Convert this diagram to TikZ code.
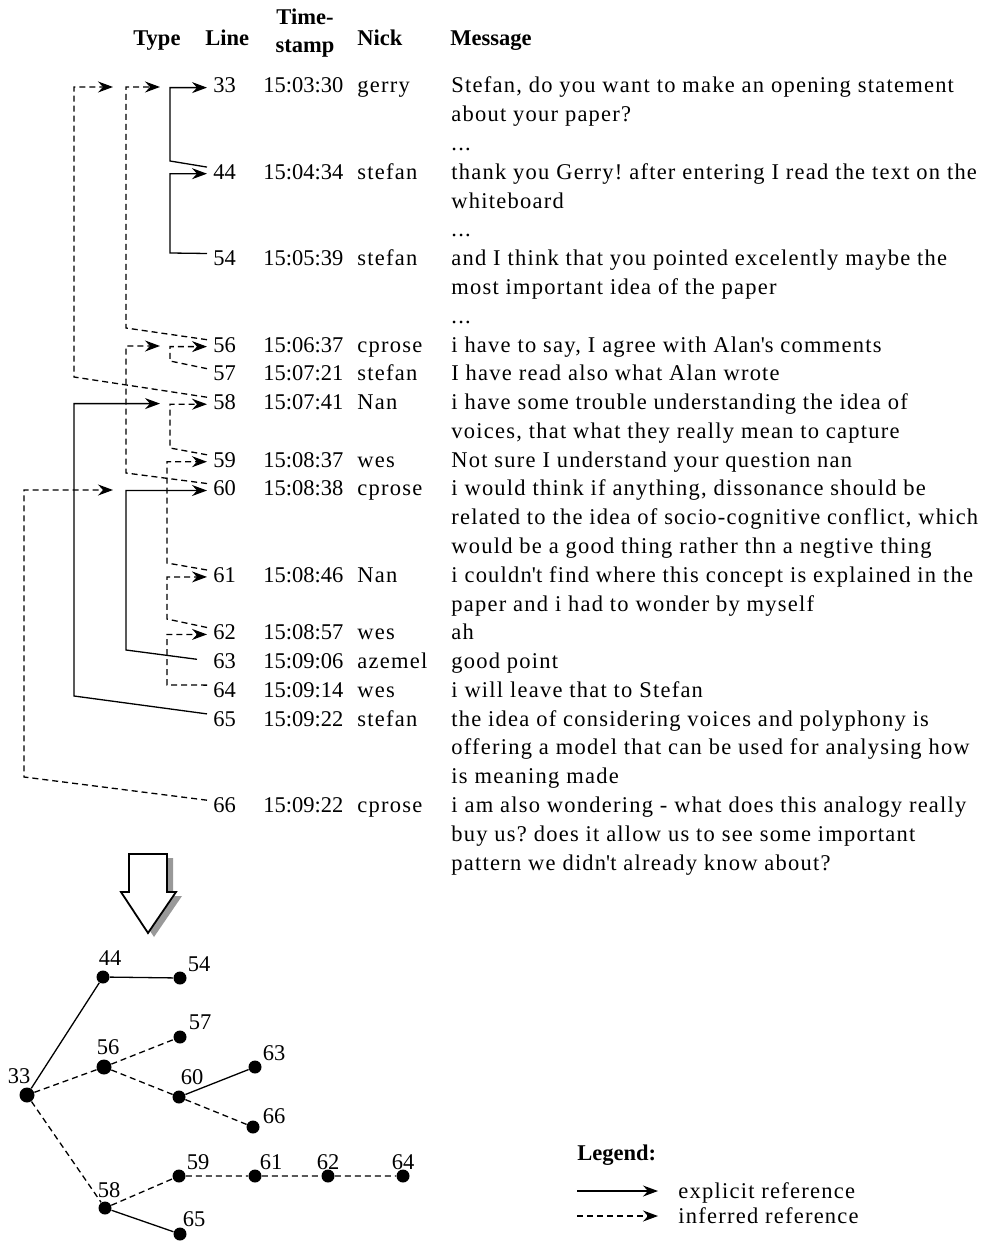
\documentclass[tikz,border=0pt]{standalone}
\usepackage{fontspec}
\setmainfont{Liberation Serif}
\newfontfamily\spaced{Liberation Serif}[LetterSpace=5.5]
\usetikzlibrary{arrows.meta,calc}
\frenchspacing
% first line of a block sits on the node's baseline
\newcommand{\msglines}[1]{\begin{tabular}[t]{@{}l@{}}#1\end{tabular}}

\begin{document}
\begin{tikzpicture}[x=0.5pt,y=-0.5pt]
  \tikzset{
    every node/.style={font=\fontsize{11.25}{14.39}\selectfont},
    head/.style={anchor=base west, inner sep=0pt, font=\fontsize{11.25}{14}\selectfont\bfseries},
    num/.style={anchor=base west, inner xsep=3pt, inner ysep=0pt},
    stamp/.style={anchor=base west, inner sep=0pt},
    nick/.style={anchor=base west, inner sep=0pt, font=\fontsize{11.25}{14.39}\selectfont\spaced},
    msg/.style={anchor=base west, inner sep=0pt, font=\fontsize{11.25}{14.39}\selectfont\spaced\frenchspacing},
    expl/.style={draw, line width=0.65pt, -{Stealth[length=7.5pt, width=5.5pt, inset=2.5pt]}},
    infer/.style={expl, dash pattern=on 3pt off 2pt},
    link/.style={draw, line width=0.65pt},
    dlink/.style={link, dash pattern=on 3pt off 2pt},
    dot/.style={circle, fill, inner sep=0pt, minimum size=6.5pt},
    bigdot/.style={dot, minimum size=7.5pt},
    lab/.style={inner sep=0pt}
  }
  \useasboundingbox (0,0) rectangle (983,1241);

  % header
  \node [head] (htype) at (133,46) {Type};
  \node [head] (hline) at (205,46) {Line};
  \node [head, anchor=base] (htime) at (305,25) {\begin{tabular}[t]{@{}c@{}}Time-\\stamp\end{tabular}};
  \node [head] (hnick) at (357,46) {Nick};
  \node [head] (hmsg) at (450,46) {Message};

  % chat lines
  \node [num] (n33) at (207,93) {33};
  \node [stamp] (s33) at (263,93) {15:03:30};
  \node [nick] (k33) at (357,93) {gerry};
  \node [msg] (m33) at (451,93) {\msglines{Stefan, do you want to make an opening statement\\about your paper?\\...}};

  \node [num] (n44) at (207,179.3) {44};
  \node [stamp] (s44) at (263,179.3) {15:04:34};
  \node [nick] (k44) at (357,179.3) {stefan};
  \node [msg] (m44) at (451,179.3) {\msglines{thank you Gerry! after entering I read the text on the\\whiteboard\\...}};

  \node [num] (n54) at (207,265.7) {54};
  \node [stamp] (s54) at (263,265.7) {15:05:39};
  \node [nick] (k54) at (357,265.7) {stefan};
  \node [msg] (m54) at (451,265.7) {\msglines{and I think that you pointed excelently maybe the\\most important idea of the paper\\...}};

  \node [num] (n56) at (207,352) {56};
  \node [stamp] (s56) at (263,352) {15:06:37};
  \node [nick] (k56) at (357,352) {cprose};
  \node [msg] (m56) at (451,352) {i have to say, I agree with Alan\textquotesingle s comments};

  \node [num] (n57) at (207,380.8) {57};
  \node [stamp] (s57) at (263,380.8) {15:07:21};
  \node [nick] (k57) at (357,380.8) {stefan};
  \node [msg] (m57) at (451,380.8) {I have read also what Alan wrote};

  \node [num] (n58) at (207,409.6) {58};
  \node [stamp] (s58) at (263,409.6) {15:07:41};
  \node [nick] (k58) at (357,409.6) {Nan};
  \node [msg] (m58) at (451,409.6) {\msglines{i have some trouble understanding the idea of\\voices, that what they really mean to capture}};

  \node [num] (n59) at (207,467.1) {59};
  \node [stamp] (s59) at (263,467.1) {15:08:37};
  \node [nick] (k59) at (357,467.1) {wes};
  \node [msg] (m59) at (451,467.1) {Not sure I understand your question nan};

  \node [num] (n60) at (207,495.9) {60};
  \node [stamp] (s60) at (263,495.9) {15:08:38};
  \node [nick] (k60) at (357,495.9) {cprose};
  \node [msg] (m60) at (451,495.9) {\msglines{i would think if anything, dissonance should be\\related to the idea of socio-cognitive conflict, which\\would be a good thing rather thn a negtive thing}};

  \node [num] (n61) at (207,582.3) {61};
  \node [stamp] (s61) at (263,582.3) {15:08:46};
  \node [nick] (k61) at (357,582.3) {Nan};
  \node [msg] (m61) at (451,582.3) {\msglines{i couldn\textquotesingle t find where this concept is explained in the\\paper and i had to wonder by myself}};

  \node [num] (n62) at (207,639.8) {62};
  \node [stamp] (s62) at (263,639.8) {15:08:57};
  \node [nick] (k62) at (357,639.8) {wes};
  \node [msg] (m62) at (451,639.8) {ah};

  \node [num] (n63) at (207,668.6) {63};
  \node [stamp] (s63) at (263,668.6) {15:09:06};
  \node [nick] (k63) at (357,668.6) {azemel};
  \node [msg] (m63) at (451,668.6) {good point};

  \node [num] (n64) at (207,697.4) {64};
  \node [stamp] (s64) at (263,697.4) {15:09:14};
  \node [nick] (k64) at (357,697.4) {wes};
  \node [msg] (m64) at (451,697.4) {i will leave that to Stefan};

  \node [num] (n65) at (207,726.2) {65};
  \node [stamp] (s65) at (263,726.2) {15:09:22};
  \node [nick] (k65) at (357,726.2) {stefan};
  \node [msg] (m65) at (451,726.2) {\msglines{the idea of considering voices and polyphony is\\offering a model that can be used for analysing how\\is meaning made}};

  \node [num] (n66) at (207,812.5) {66};
  \node [stamp] (s66) at (263,812.5) {15:09:22};
  \node [nick] (k66) at (357,812.5) {cprose};
  \node [msg] (m66) at (451,812.5) {\msglines{i am also wondering - what does this analogy really\\buy us? does it allow us to see some important\\pattern we didn\textquotesingle t already know about?}};

  % free arrow ends
  \coordinate (e33a) at (113,87);
  \coordinate (e33b) at (160,87);
  \coordinate (e56) at (160,346);
  \coordinate (e58) at (160,403.6);
  \coordinate (e60) at (113,490);

  % explicit references
  \path [expl] ($(n44.north west)+(0,3)$) -- (170,161) |- ($(n33.south west)+(0,-6)$);
  \path [expl] ($(n54.north west)+(0,3)$) -- (170,253) |- ($(n44.south west)+(0,-6)$);
  \path [expl] ($(n63.north west)+(-10,6)$) -- (126,650) |- ($(n60.south west)+(0,-6)$);
  \path [expl] ($(n65.north west)+(0,3)$) -- (74,696) |- (e58);

  % inferred references
  \path [infer] ($(n56.north west)+(0,3)$) -- (126,328) |- (e33b);
  \path [infer] ($(n58.north west)+(0,3)$) -- (74,377) |- (e33a);
  \path [infer] ($(n57.north west)+(0,3)$) -- (170,361) |- ($(n56.south west)+(0,-6)$);
  \path [infer] ($(n59.north west)+(0,3)$) -- (170,448) |- ($(n58.south west)+(0,-6)$);
  \path [infer] ($(n60.north west)+(0,3)$) -- (126,473) |- (e56);
  \path [infer] ($(n61.north west)+(0,3)$) -- (167,563) |- ($(n59.south west)+(0,-6)$);
  \path [infer] ($(n62.north west)+(0,3)$) -- (167,619) |- ($(n61.south west)+(0,-6)$);
  \path [infer] ($(n64.north west)+(0,3)$) -- (167,685) |- ($(n62.south west)+(0,-6)$);
  \path [infer] ($(n66.north west)+(0,3)$) -- (24,777) |- (e60);

  % big arrow
  \fill [black!40, shift={(6,4)}] (129,854) -- (167,854) -- (167,892) -- (176,892) -- (148,933) -- (121,892) -- (129,892) -- cycle;
  \draw [fill=white, line width=0.9pt] (129,854) -- (167,854) -- (167,892) -- (176,892) -- (148,933) -- (121,892) -- (129,892) -- cycle;

  % thread tree
  \node [bigdot] (d33) at (27,1095) {};
  \node [dot] (d44) at (103,977) {};
  \node [dot] (d54) at (180,978) {};
  \node [bigdot] (d56) at (104,1067) {};
  \node [dot] (d57) at (180,1037) {};
  \node [dot] (d60) at (179,1097) {};
  \node [dot] (d63) at (255,1067) {};
  \node [dot] (d66) at (253,1127) {};
  \node [dot] (d58) at (105,1208) {};
  \node [dot] (d59) at (179,1176) {};
  \node [dot] (d61) at (255,1176) {};
  \node [dot] (d62) at (328,1176) {};
  \node [dot] (d64) at (403,1176) {};
  \node [dot] (d65) at (180,1234) {};

  \node [lab] (t33) at ($(d33)+(-8,-19)$) {33};
  \node [lab] (t44) at ($(d44)+(7,-19)$) {44};
  \node [lab] (t54) at ($(d54)+(19,-14)$) {54};
  \node [lab] (t56) at ($(d56)+(4,-20)$) {56};
  \node [lab] (t57) at ($(d57)+(20,-15)$) {57};
  \node [lab] (t60) at ($(d60)+(13,-20)$) {60};
  \node [lab] (t63) at ($(d63)+(19,-14)$) {63};
  \node [lab] (t66) at ($(d66)+(21,-11)$) {66};
  \node [lab] (t58) at ($(d58)+(4,-18)$) {58};
  \node [lab] (t59) at ($(d59)+(19,-14)$) {59};
  \node [lab] (t61) at ($(d61)+(16,-14)$) {61};
  \node [lab] (t62) at ($(d62)+(0,-14)$) {62};
  \node [lab] (t64) at ($(d64)+(0,-14)$) {64};
  \node [lab] (t65) at ($(d65)+(14,-15)$) {65};

  \path [link] (d33) -- (d44) -- (d54);
  \path [link] (d60) -- (d63);
  \path [link] (d58) -- (d65);
  \path [dlink] (d33) -- (d56) -- (d57);
  \path [dlink] (d56) -- (d60) -- (d66);
  \path [dlink] (d33) -- (d58) -- (d59) -- (d61) -- (d62) -- (d64);

  % legend
  \node [head] (legend) at (577,1160) {Legend:};
  \node [msg] (lexp) at (678,1198) {explicit reference};
  \node [msg] (linf) at (678,1223) {inferred reference};
  \coordinate (la) at (577,1191);
  \coordinate (lb) at (577,1216);
  \path [expl, shorten >=10pt] (la) -- (la -| lexp.west);
  \path [infer, shorten >=10pt] (lb) -- (lb -| linf.west);
\end{tikzpicture}
\end{document}
